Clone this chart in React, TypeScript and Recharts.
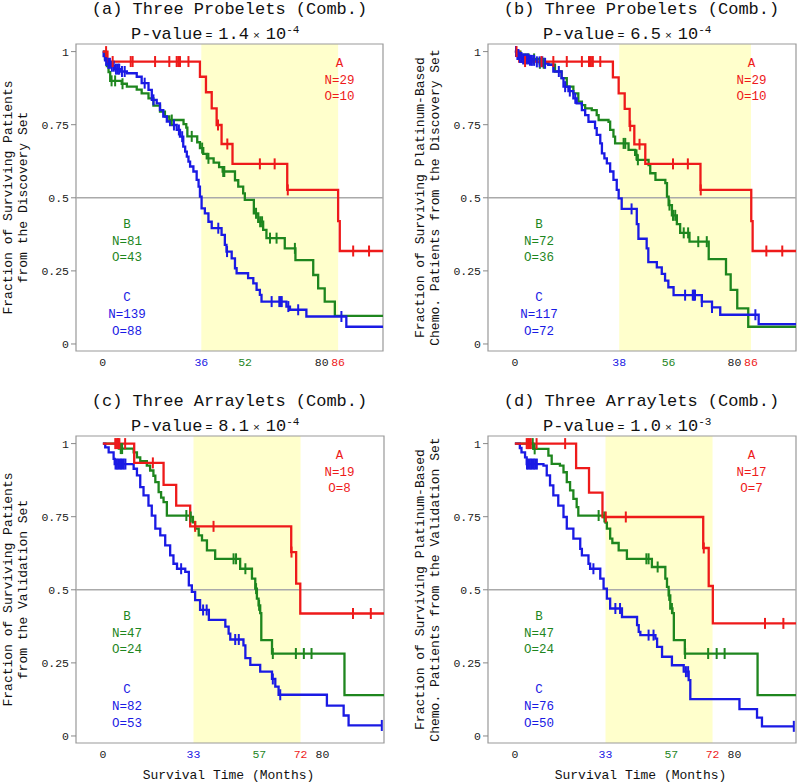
import React from "react";
import { ComposedChart, Line, Scatter, XAxis, YAxis, ReferenceArea, ReferenceLine } from "recharts";

type Pt = [number, number];

const MONO = "'Liberation Mono', 'Courier New', monospace";
const RED = "#ee1a1a";
const GREEN = "#1e861e";
const BLUE = "#1a1ae4";
const X_DOMAIN: [number, number] = [-9.8, 102.4];
const Y_DOMAIN: [number, number] = [-0.024, 1.026];
const Y_TICKS = [0, 0.25, 0.5, 0.75, 1];

// (a) Three Probelets, discovery set
const aTicks = [0, 36, 52, 80, 86];
const aShade: Pt = [36, 86];
const aRed: Pt[] = [[0, 1], [1.7, 0.966], [35.5, 0.914], [37.7, 0.861], [39.8, 0.806], [41.6, 0.749], [43.4, 0.684], [47.4, 0.616], [67.4, 0.527], [86, 0.42], [86.6, 0.318], [102.4, 0.318]];
const aRedCens = [1.2, 3.6, 10.2, 10.9, 19.1, 24.3, 27, 27.6, 28.2, 31.3, 42.1, 45.5, 57.4, 62.8, 67.6, 91.5, 97.3];
const aGreen: Pt[] = [[0, 1], [0.8, 0.975], [1.5, 0.95], [2.1, 0.93], [2.7, 0.9], [6.9, 0.89], [8.8, 0.88], [12.4, 0.87], [14.2, 0.857], [16.7, 0.84], [18.5, 0.815], [20.9, 0.795], [22.7, 0.778], [24.3, 0.766], [29.5, 0.752], [30.5, 0.74], [30.9, 0.71], [34.5, 0.69], [35.5, 0.67], [36.7, 0.65], [38, 0.635], [40.5, 0.62], [42.5, 0.605], [43.8, 0.59], [48.3, 0.56], [49.5, 0.538], [51.3, 0.515], [51.9, 0.493], [55.2, 0.447], [56.8, 0.418], [58.6, 0.39], [59.8, 0.362], [66.5, 0.327], [70.4, 0.287], [76.9, 0.236], [78.7, 0.19], [81.1, 0.145], [84.8, 0.096], [102.4, 0.096]];
const aGreenCens = [3.2, 4.5, 7.2, 25.2, 32.5, 36.3, 38.6, 44, 44.4, 56, 57.5, 58.2, 61.1, 63.5, 70.2];
const aBlue: Pt[] = [[0, 1], [0.3, 0.985], [0.8, 0.97], [1.8, 0.96], [3, 0.95], [4.5, 0.94], [6.5, 0.932], [8.8, 0.926], [12.4, 0.914], [14.2, 0.892], [16.7, 0.869], [17.9, 0.835], [19.7, 0.823], [20.9, 0.8], [22.1, 0.778], [23.4, 0.761], [24.6, 0.749], [27, 0.732], [28.2, 0.709], [29.4, 0.675], [30.1, 0.658], [30.7, 0.641], [31.3, 0.624], [31.9, 0.607], [33.1, 0.59], [34.3, 0.561], [35, 0.538], [35.5, 0.504], [36.1, 0.464], [37.3, 0.447], [38.6, 0.418], [39.8, 0.396], [43.4, 0.373], [44.6, 0.339], [45.2, 0.316], [47.1, 0.293], [48.3, 0.259], [48.9, 0.242], [53.1, 0.225], [55, 0.207], [56.2, 0.185], [57.4, 0.168], [58, 0.145], [67.1, 0.128], [68.4, 0.117], [74.4, 0.094], [89, 0.059], [102.4, 0.059]];
const aBlueCens = [1.2, 2, 2.6, 3.3, 4, 4.8, 5.5, 6, 7, 8, 15.3, 18.5, 26, 27.8, 29, 42.2, 45.4, 61.7, 64.5, 65, 65.4, 67.8, 71.4, 87.2];

// (b) Three Probelets, platinum-based chemo patients, discovery set
const bTicks = [0, 38, 56, 80, 86];
const bShade: Pt = [38, 86];
const bRed: Pt[] = [[0, 1], [1.6, 0.966], [35.7, 0.912], [37.8, 0.857], [40, 0.804], [41.8, 0.746], [43.5, 0.683], [47.5, 0.616], [67.6, 0.527], [86.1, 0.42], [86.6, 0.318], [102.4, 0.318]];
const bRedCens = [0.6, 3.7, 9.7, 14, 18.9, 24.4, 27, 27.7, 28.4, 31.1, 42, 45.4, 57.6, 63, 67.7, 91.6, 97.4];
const bGreen: Pt[] = [[0, 1], [2, 0.99], [5, 0.975], [9, 0.96], [12.2, 0.955], [14.6, 0.932], [17, 0.909], [18.9, 0.88], [21.3, 0.857], [23.1, 0.829], [24.4, 0.817], [25.6, 0.806], [28, 0.8], [29.8, 0.783], [30.5, 0.766], [34.1, 0.76], [34.7, 0.732], [35.9, 0.709], [36.5, 0.686], [41.4, 0.664], [43.8, 0.647], [44.5, 0.63], [48.7, 0.612], [49.3, 0.584], [51.2, 0.561], [54.8, 0.55], [55.4, 0.504], [56, 0.475], [57.2, 0.44], [59, 0.41], [60.2, 0.38], [63.6, 0.35], [70.6, 0.29], [76.9, 0.238], [78.6, 0.185], [81, 0.122], [85, 0.059], [102.4, 0.059]];
const bGreenCens = [7, 9.1, 10.5, 39.6, 40.2, 44.3, 44.8, 56.3, 57.6, 58.4, 61.5, 63.1, 66.8, 69.9];
const bBlue: Pt[] = [[0, 1], [0.8, 0.99], [1.5, 0.98], [3, 0.975], [5, 0.97], [8, 0.965], [10.5, 0.96], [12.2, 0.955], [14, 0.932], [17, 0.909], [17.7, 0.88], [19.5, 0.865], [21.3, 0.84], [22.5, 0.823], [24.4, 0.8], [25.6, 0.783], [26.8, 0.76], [29.2, 0.738], [29.8, 0.715], [31.1, 0.686], [31.7, 0.652], [32.6, 0.635], [33.5, 0.618], [34.7, 0.59], [35.9, 0.561], [37.1, 0.527], [37.8, 0.498], [38.9, 0.462], [44.4, 0.41], [45, 0.36], [48, 0.327], [48.6, 0.28], [51.7, 0.262], [53.5, 0.24], [54.7, 0.217], [55.9, 0.194], [57.8, 0.167], [68.1, 0.145], [71.8, 0.125], [74.8, 0.1], [88.8, 0.068], [102.4, 0.068]];
const bBlueCens = [0.4, 0.9, 1.3, 1.8, 2.4, 3, 3.6, 4.2, 4.8, 5.5, 6.2, 7, 8, 9, 10, 11, 16, 18.3, 20, 22, 42.5, 62, 64.8, 65.2, 65.6, 68.1, 71.8, 87.6];

// (c) Three Arraylets, validation set
const cTicks = [0, 33, 57, 72, 80];
const cShade: Pt = [33, 72];
const cRed: Pt[] = [[0, 1], [11.4, 0.934], [22.1, 0.859], [26.7, 0.788], [31.8, 0.717], [68.6, 0.629], [70.4, 0.521], [71.9, 0.419], [102.4, 0.419]];
const cRedCens = [4.5, 5, 5.5, 6, 8.1, 18.2, 33.6, 40.3, 68.7, 91.1, 97.6];
const cGreen: Pt[] = [[0, 1], [5.8, 0.983], [11.2, 0.97], [12.4, 0.953], [13.6, 0.94], [16, 0.925], [17.2, 0.908], [18.4, 0.89], [19.1, 0.868], [20.3, 0.834], [21.2, 0.815], [22.1, 0.8], [23.3, 0.754], [31.8, 0.749], [32.8, 0.731], [33.6, 0.709], [34.9, 0.686], [36.1, 0.669], [37.9, 0.635], [40.9, 0.606], [50, 0.572], [54.3, 0.538], [55.5, 0.504], [56.1, 0.47], [56.7, 0.447], [57.3, 0.42], [57.7, 0.328], [61.6, 0.282], [88, 0.14], [102.4, 0.14]];
const cGreenCens = [6.5, 7, 30.4, 32, 47.6, 48.5, 51.9, 55.8, 56.9, 61.9, 70.3, 73.2, 76];
const cBlue: Pt[] = [[0, 1], [0.85, 0.987], [2.1, 0.97], [3.9, 0.948], [4.3, 0.93], [11.2, 0.914], [12.4, 0.891], [13.6, 0.851], [14.8, 0.823], [16.6, 0.788], [17.8, 0.754], [19.1, 0.709], [20.9, 0.686], [22.7, 0.652], [24.5, 0.618], [25.7, 0.589], [27, 0.572], [30, 0.561], [31.3, 0.515], [32.4, 0.493], [33.6, 0.465], [35.4, 0.431], [38.6, 0.397], [44.6, 0.374], [45.8, 0.35], [46.4, 0.33], [51.2, 0.31], [51.9, 0.266], [53.7, 0.243], [57.3, 0.22], [61.6, 0.195], [62.8, 0.169], [64, 0.141], [81.6, 0.104], [87.7, 0.07], [89.5, 0.036], [101.6, 0.036]];
const cBlueCens = [4.6, 5.1, 5.6, 6.1, 6.6, 7.1, 7.6, 8.2, 28.5, 36.5, 37.8, 48.2, 49.5, 61.9, 64.6, 101.6];

// (d) Three Arraylets, platinum-based chemo patients, validation set
const dTicks = [0, 33, 57, 72, 80];
const dShade: Pt = [33, 72];
const dRed: Pt[] = [[0, 1], [22.3, 0.916], [27, 0.832], [31.9, 0.749], [68.6, 0.643], [70.6, 0.513], [72.1, 0.385], [102.4, 0.385]];
const dRedCens = [4.3, 4.8, 5.3, 5.8, 7.9, 18.3, 33.1, 40.4, 68.8, 91.1, 97.8];
const dGreen: Pt[] = [[0, 1], [6.7, 0.982], [12.2, 0.959], [13.4, 0.931], [16.4, 0.925], [17.7, 0.902], [18.9, 0.868], [20.1, 0.84], [21.3, 0.811], [22.5, 0.783], [23.1, 0.754], [32.3, 0.749], [33, 0.73], [33.5, 0.709], [34.7, 0.675], [35.5, 0.66], [37.8, 0.635], [40.8, 0.606], [49.9, 0.578], [54.8, 0.538], [55.4, 0.51], [56, 0.481], [56.6, 0.436], [57.4, 0.42], [57.9, 0.328], [61.9, 0.282], [88.4, 0.14], [102.4, 0.14]];
const dGreenCens = [6.5, 7.2, 30.5, 32.6, 47.9, 48.7, 52, 56.2, 57.2, 62, 70.4, 73.5, 76.4];
const dBlue: Pt[] = [[0, 1], [1.8, 0.985], [2.4, 0.97], [3.7, 0.953], [4.3, 0.93], [10.4, 0.925], [11.6, 0.891], [12.8, 0.857], [14, 0.823], [15.8, 0.788], [17.7, 0.749], [18.9, 0.709], [21.3, 0.675], [23.8, 0.64], [24.4, 0.618], [26.8, 0.589], [27.4, 0.572], [31.1, 0.538], [32.3, 0.504], [33.5, 0.47], [34.7, 0.436], [39, 0.407], [44.5, 0.379], [45.1, 0.356], [45.7, 0.345], [51.2, 0.333], [51.8, 0.305], [53.6, 0.271], [57.2, 0.242], [61.5, 0.22], [63.3, 0.191], [63.9, 0.126], [81.8, 0.092], [88.2, 0.063], [90, 0.033], [101.6, 0.033]];
const dBlueCens = [4.4, 4.9, 5.4, 5.9, 6.4, 6.9, 7.4, 8, 28.6, 36.6, 38.3, 48.7, 50.5, 62.3, 63.1, 101.6];

function toRows(pts: Pt[]) {
    return pts.map(([t, s]) => ({ t, s }));
}

// censored patients sit on the step curve at their censoring time
function censorRows(pts: Pt[], cens: number[]) {
    return cens.map((t) => {
        let s = pts[0][1];
        for (const [pt, ps] of pts) if (pt <= t) s = ps;
        return { t, s };
    });
}

const tickShape = (color: string) => (props: any) => (
    <line x1={props.cx} x2={props.cx} y1={props.cy - 5.5} y2={props.cy + 5.5} stroke={color} strokeWidth={2} />
);

type PanelProps = {
    left: number;
    top: number;
    plotLeft: number;
    plotWidth: number;
    ticks: number[];
    shade: Pt;
    curves: { pts: Pt[]; cens: number[]; color: string }[];
};

function KMPanel({ left, top, plotLeft, plotWidth, ticks, shade, curves }: PanelProps) {
    const tickColor = (v: number) => {
        if (v === ticks[1]) return BLUE;
        if (v === ticks[2]) return GREEN;
        if (v === shade[1]) return RED;
        return "#222";
    };
    return (
        <div style={{ position: "absolute", left, top }}>
            <ComposedChart
                width={400}
                height={392}
                margin={{ top: 44, right: 400 - plotLeft - plotWidth, bottom: 11, left: plotLeft - 40 }}
            >
                <XAxis
                    type="number"
                    dataKey="t"
                    domain={X_DOMAIN}
                    ticks={ticks}
                    allowDataOverflow
                    axisLine={false}
                    tickLine={false}
                    tickSize={5}
                    tickMargin={2}
                    height={30}
                    interval={0}
                    tick={(p: any) => (
                        <text x={p.x} y={p.y} dy={8.2} textAnchor="middle" fontSize={11.5} fontFamily={MONO} fill={tickColor(p.payload.value)}>
                            {p.payload.value}
                        </text>
                    )}
                />
                <YAxis
                    type="number"
                    domain={Y_DOMAIN}
                    ticks={Y_TICKS}
                    allowDataOverflow
                    axisLine={false}
                    tickLine={{ stroke: "#888" }}
                    tickSize={5}
                    tickMargin={2}
                    width={40}
                    tick={{ fontSize: 11.5, fontFamily: MONO, fill: "#222" }}
                />
                <ReferenceArea x1={shade[0]} x2={shade[1]} fill="#ffffcc" fillOpacity={1} stroke="none" />
                <ReferenceLine y={0.5} stroke="#aaa" strokeWidth={1.5} />
                <ReferenceArea x1={X_DOMAIN[0]} x2={X_DOMAIN[1]} y1={Y_DOMAIN[0]} y2={Y_DOMAIN[1]} fill="none" stroke="#999" strokeWidth={1.2} />
                {curves.map((c, i) => (
                    <Line
                        key={"l" + i}
                        data={toRows(c.pts)}
                        dataKey="s"
                        type="stepAfter"
                        stroke={c.color}
                        strokeWidth={2.3}
                        dot={false}
                        isAnimationActive={false}
                    />
                ))}
                {curves.map((c, i) => (
                    <Scatter
                        key={"c" + i}
                        data={censorRows(c.pts, c.cens)}
                        dataKey="s"
                        shape={tickShape(c.color)}
                        isAnimationActive={false}
                    />
                ))}
            </ComposedChart>
        </div>
    );
}

function Annot({ x, y, color, lines }: { x: number; y: number; color: string; lines: string[] }) {
    return (
        <>
            {lines.map((l, i) => (
                <text key={i} x={x} y={y + i * 16.7} textAnchor="middle" fontSize={12.5} fontFamily={MONO} fill={color}>
                    {l}
                </text>
            ))}
        </>
    );
}

function PanelText({ plotLeft, top, title, mant, expo, ylab, counts, xlabel }: any) {
    const cx = plotLeft + 153.5;
    return (
        <>
            <text x={cx} y={top + 13.5} textAnchor="middle" fontSize={17} fontFamily={MONO} fill="#111">
                {title}
            </text>
            <text x={plotLeft + 55} y={top + 39.3} fontSize={17} fontFamily={MONO} fill="#111">
                <tspan>P-value</tspan>
                <tspan dx={3} fontSize={11.5}>=</tspan>
                <tspan dx={6}>{mant}</tspan>
                <tspan dx={4} fontSize={11.5}>×</tspan>
                <tspan dx={6}>10</tspan>
                <tspan dy={-6} fontSize={11}>{expo}</tspan>
            </text>
            {ylab.map((l: string, i: number) => {
                const x = plotLeft - 64.5 + i * 15.5;
                const y = top + 197.5;
                return (
                    <text key={i} x={x} y={y} transform={`rotate(-90 ${x} ${y})`} textAnchor="middle" fontSize={13} fontFamily={MONO} fill="#111">
                        {l}
                    </text>
                );
            })}
            <Annot x={plotLeft + 263.5} y={top + 67} color={RED} lines={counts[0]} />
            <Annot x={plotLeft + 51} y={top + 228} color={GREEN} lines={counts[1]} />
            <Annot x={plotLeft + 51} y={top + 301.3} color={BLUE} lines={counts[2]} />
            {xlabel && (
                <text x={cx - 1} y={top + 387} textAnchor="middle" fontSize={13} fontFamily={MONO} fill="#111">
                    Survival Time (Months)
                </text>
            )}
        </>
    );
}

export default function App() {
    return (
        <div style={{ position: "absolute", left: 0, top: 0, width: 800, height: 784, background: "#fff", overflow: "hidden" }}>
            <KMPanel left={0} top={0} plotLeft={76} plotWidth={307} ticks={aTicks} shade={aShade}
                curves={[{ pts: aGreen, cens: aGreenCens, color: GREEN }, { pts: aBlue, cens: aBlueCens, color: BLUE }, { pts: aRed, cens: aRedCens, color: RED }]} />
            <KMPanel left={400} top={0} plotLeft={88} plotWidth={308} ticks={bTicks} shade={bShade}
                curves={[{ pts: bGreen, cens: bGreenCens, color: GREEN }, { pts: bBlue, cens: bBlueCens, color: BLUE }, { pts: bRed, cens: bRedCens, color: RED }]} />
            <KMPanel left={0} top={392} plotLeft={76} plotWidth={308} ticks={cTicks} shade={cShade}
                curves={[{ pts: cGreen, cens: cGreenCens, color: GREEN }, { pts: cBlue, cens: cBlueCens, color: BLUE }, { pts: cRed, cens: cRedCens, color: RED }]} />
            <KMPanel left={400} top={392} plotLeft={88} plotWidth={308} ticks={dTicks} shade={dShade}
                curves={[{ pts: dGreen, cens: dGreenCens, color: GREEN }, { pts: dBlue, cens: dBlueCens, color: BLUE }, { pts: dRed, cens: dRedCens, color: RED }]} />
            <svg width={800} height={784} style={{ position: "absolute", left: 0, top: 0, pointerEvents: "none" }}>
                <PanelText plotLeft={76} top={0} title="(a) Three Probelets (Comb.)" mant="1.4" expo="-4"
                    ylab={["Fraction of Surviving Patients", "from the Discovery Set"]}
                    counts={[["A", "N=29", "O=10"], ["B", "N=81", "O=43"], ["C", "N=139", "O=88"]]} />
                <PanelText plotLeft={488} top={0} title="(b) Three Probelets (Comb.)" mant="6.5" expo="-4"
                    ylab={["Fraction of Surviving Platinum-Based", "Chemo. Patients from the Discovery Set"]}
                    counts={[["A", "N=29", "O=10"], ["B", "N=72", "O=36"], ["C", "N=117", "O=72"]]} />
                <PanelText plotLeft={76} top={392} title="(c) Three Arraylets (Comb.)" mant="8.1" expo="-4"
                    ylab={["Fraction of Surviving Patients", "from the Validation Set"]}
                    counts={[["A", "N=19", "O=8"], ["B", "N=47", "O=24"], ["C", "N=82", "O=53"]]} xlabel />
                <PanelText plotLeft={488} top={392} title="(d) Three Arraylets (Comb.)" mant="1.0" expo="-3"
                    ylab={["Fraction of Surviving Platinum-Based", "Chemo. Patients from the Validation Set"]}
                    counts={[["A", "N=17", "O=7"], ["B", "N=47", "O=24"], ["C", "N=76", "O=50"]]} xlabel />
            </svg>
        </div>
    );
}
